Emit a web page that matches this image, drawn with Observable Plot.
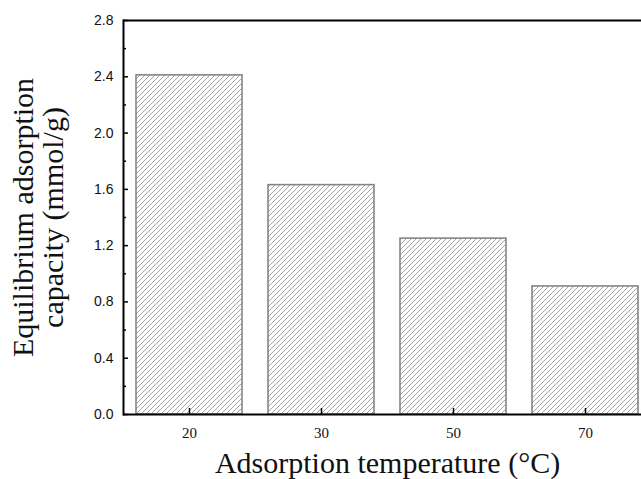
<!DOCTYPE html>
<html>
<head>
<meta charset="utf-8">
<script src="https://cdn.jsdelivr.net/npm/d3@7"></script>
<script src="https://cdn.jsdelivr.net/npm/@observablehq/plot@0.6"></script>
<style>
  html, body { margin: 0; padding: 0; background: #fff; overflow: hidden; }
</style>
</head>
<body>
<div id="chart"></div>
<script>
// Equilibrium adsorption capacity at each adsorption temperature
const temperatures = ["20", "30", "50", "70"];
const capacities = [2.41, 1.63, 1.25, 0.91];

// Value-axis ticks (labelled majors and unlabelled minors)
const majorTicks = [0, 0.4, 0.8, 1.2, 1.6, 2.0, 2.4, 2.8];
const minorTicks = [0.2, 0.6, 1.0, 1.4, 1.8, 2.2, 2.6];

const xTitle = "Adsorption temperature (°C)";
const yTitleLines = ["Equilibrium adsorption", "capacity (mmol/g)"];

const bars = temperatures.map((t, i) => ({temperature: t, capacity: capacities[i]}));

const W = 641, H = 479;
const mL = 123, mR = -10, mT = 20, mB = 65;
const frameW = W - mL - mR, frameH = H - mT - mB;

const serif = "'Liberation Serif', 'Times New Roman', serif";
const sans = "'Liberation Sans', Arial, sans-serif";

const chart = Plot.plot({
  width: W,
  height: H,
  marginLeft: mL,
  marginRight: mR,
  marginTop: mT,
  marginBottom: mB,
  style: {background: "#fff", color: "#000"},
  x: {type: "band", domain: temperatures, paddingInner: 0.2, paddingOuter: 0.1, axis: null},
  y: {domain: [0, 2.8], axis: null},
  marks: [
    // hatched bars
    Plot.barY(bars, {
      x: "temperature", y: "capacity",
      fill: "url(#hatch)", stroke: "#858585", strokeWidth: 1.6
    }),
    // value labels on the left
    Plot.axisY(majorTicks, {
      label: null, tickSize: 0, tickPadding: 10,
      tickFormat: d => d.toFixed(1),
      fontFamily: sans, fontSize: 14, fill: "#111"
    }),
    // category labels below
    Plot.axisX(temperatures, {
      label: null, tickSize: 0, tickPadding: 13,
      fontFamily: serif, fontSize: 15, fill: "#111"
    }),
    // inward tick marks
    Plot.tickY(majorTicks, {y: d => d, stroke: "#000", strokeWidth: 1.5, insetRight: frameW - 5}),
    Plot.tickY(minorTicks, {y: d => d, stroke: "#000", strokeWidth: 1.5, insetRight: frameW - 3}),
    Plot.tickX(temperatures, {x: d => d, stroke: "#000", strokeWidth: 1.5, insetTop: frameH - 6}),
    // axis lines: bottom, top and left
    Plot.ruleY([0, 2.8], {stroke: "#000", strokeWidth: 2}),
    Plot.frame({anchor: "left", stroke: "#000", strokeWidth: 2}),
    // axis titles
    Plot.text([xTitle], {
      frameAnchor: "bottom", lineAnchor: "middle", dy: 49,
      fontFamily: serif, fontSize: 30, fill: "#111"
    }),
    Plot.text([yTitleLines.join("\n")], {
      frameAnchor: "left", lineAnchor: "middle", rotate: -90, dx: -85,
      lineHeight: 1, textAnchor: "middle",
      fontFamily: serif, fontSize: 30, fill: "#111"
    })
  ]
});

// diagonal hatch used by the bars
const defs = d3.select(chart).insert("defs", ":first-child");
const pat = defs.append("pattern")
  .attr("id", "hatch")
  .attr("patternUnits", "userSpaceOnUse")
  .attr("width", 5)
  .attr("height", 5);
pat.append("rect").attr("width", 5).attr("height", 5).attr("fill", "#fff");
pat.append("path")
  .attr("d", "M0,5 L5,0 M-1,1 L1,-1 M4,6 L6,4")
  .attr("stroke", "#9a9a9a")
  .attr("stroke-width", 0.9);

document.getElementById("chart").append(chart);
</script>
</body>
</html>
